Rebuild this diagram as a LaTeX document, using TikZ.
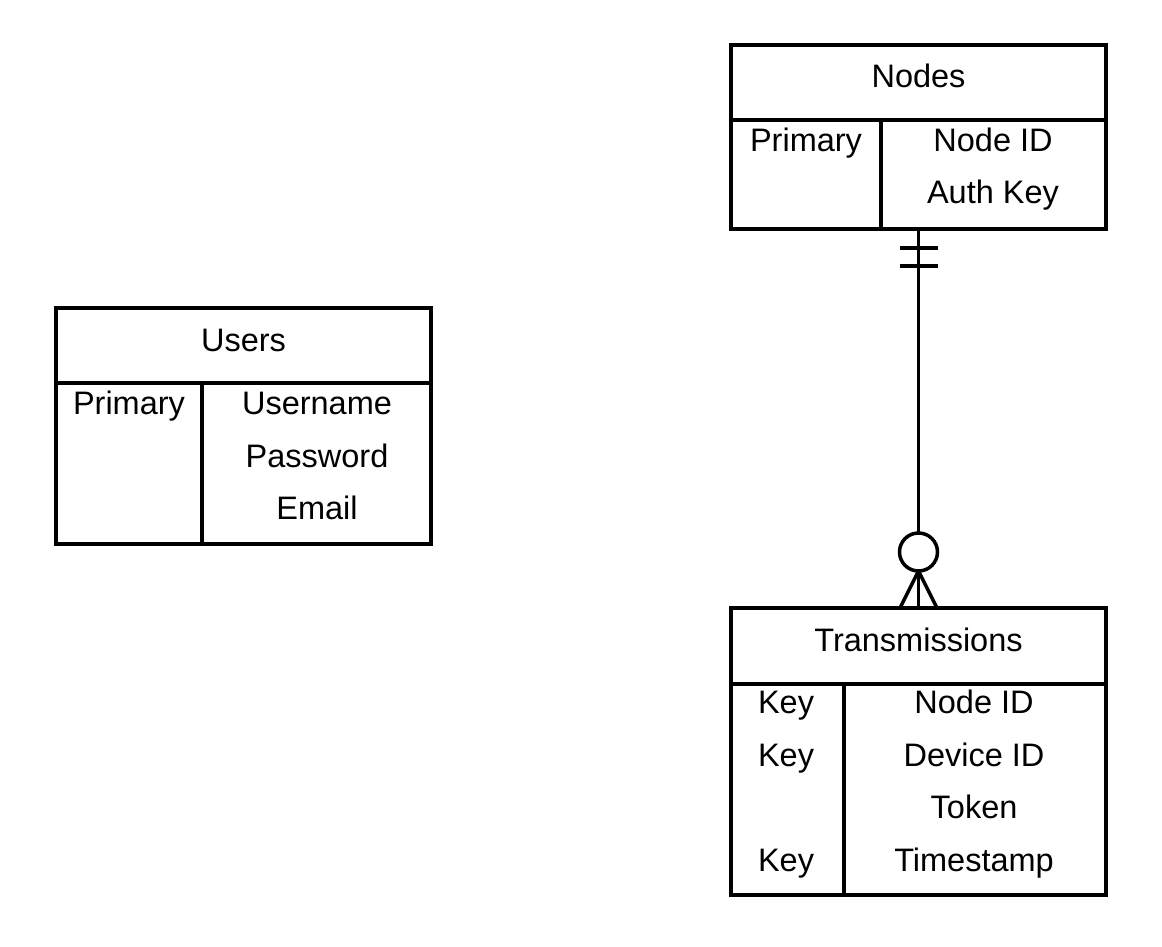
\documentclass[tikz,border=0pt]{standalone}
\usepackage{fontspec}
\setmainfont{Liberation Sans}
\begin{document}
\begin{tikzpicture}[x=1pt,y=-1pt,
  tbl/.style={draw=black,line width=3.5pt,inner sep=0pt,minimum width=375pt},
  sep/.style={line width=3.5pt},
  lbl/.style={inner sep=0pt,font=\fontsize{32.5}{36}\selectfont,anchor=base},
  conn/.style={line width=3.5pt}]
\useasboundingbox (0,0) rectangle (1162,947);
% Nodes table
\node[tbl,minimum height=184pt] (nodes) at (918.5,137) {};
\draw[sep] (731,120) -- (1106,120);
\draw[sep] (881,120) -- (881,229);
\node[lbl] (ntitle) at (918.5,88) {Nodes};
\node[lbl] (nk1) at (806,152) {Primary};
\node[lbl] (nv1) at (993,152) {Node ID};
\node[lbl] (nv2) at (993,204) {Auth Key};
% Users table
\node[tbl,minimum height=236pt] (users) at (243.5,426) {};
\draw[sep] (56,383) -- (431,383);
\draw[sep] (202,383) -- (202,544);
\node[lbl] (utitle) at (243.5,351) {Users};
\node[lbl] (uk1) at (129,414) {Primary};
\node[lbl] (uv1) at (317,414) {Username};
\node[lbl] (uv2) at (317,467) {Password};
\node[lbl] (uv3) at (317,519) {Email};
% Transmissions table
\node[tbl,minimum height=287pt] (trans) at (918.5,751.5) {};
\draw[sep] (731,684) -- (1106,684);
\draw[sep] (844,684) -- (844,895);
\node[lbl] (ttitle) at (918.5,651) {Transmissions};
\node[lbl] (tk1) at (786,713) {Key};
\node[lbl] (tk2) at (786,766) {Key};
\node[lbl] (tk4) at (786,871) {Key};
\node[lbl] (tv1) at (974,713) {Node ID};
\node[lbl] (tv2) at (974,766) {Device ID};
\node[lbl] (tv3) at (974,818) {Token};
\node[lbl] (tv4) at (974,871) {Timestamp};
% connector
\coordinate (ctop) at (nodes.south);
\coordinate (cbot) at (trans.north);
\coordinate (circ) at (918.5,552);
\draw[conn] (ctop) -- (918.5,533);
\draw[conn] (900,248) -- (938,248);
\draw[conn] (900,266) -- (938,266);
\draw[conn] (circ) circle (19pt);
\draw[conn] (918.5,571) -- (cbot);
\draw[conn] (918.5,571) -- (900,608);
\draw[conn] (918.5,571) -- (937,608);
\end{tikzpicture}
\end{document}
